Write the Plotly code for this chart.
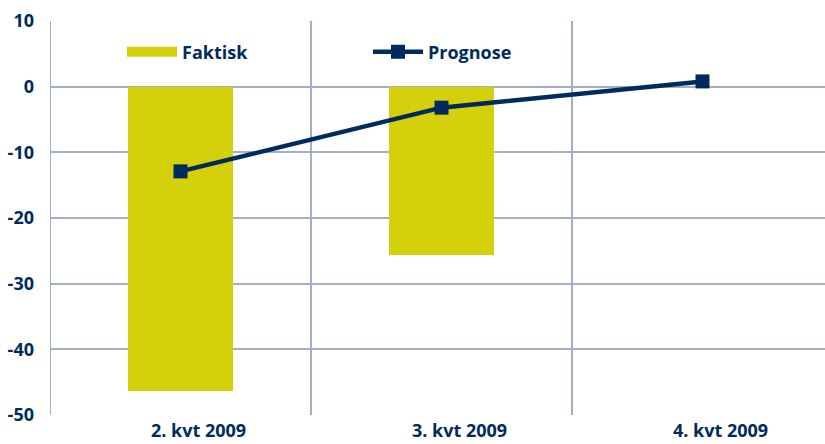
import plotly.graph_objects as go

categories = ["2. kvt 2009", "3. kvt 2009", "4. kvt 2009"]
faktisk = [-46.3, -25.7, None]
prognose = [-12.9, -3.2, 0.8]
y_ticks = [-50, -40, -30, -20, -10, 0, 10]

NAVY = "#002b5c"
YELLOW = "#d4d00c"
GRID = "#a3aec8"
FONT = dict(family="Open Sans", size=18, color=NAVY)

fig = go.Figure()
fig.add_trace(go.Bar(x=[0, 1, 2], y=faktisk, marker=dict(color=YELLOW, line=dict(width=0)),
                     width=0.40, showlegend=False, name="Faktisk"))
# legend proxy for bar (wide rectangle symbol)
fig.add_trace(go.Scatter(x=[None], y=[None], mode="lines", name="<b>Faktisk</b>",
                         line=dict(color=YELLOW, width=12), legend="legend"))
fig.add_trace(go.Scatter(x=[0, 1, 2], y=prognose, mode="lines+markers", name="<b>Prognose</b>",
                         line=dict(color=NAVY, width=4.5),
                         marker=dict(symbol="square", size=14, color=NAVY),
                         legend="legend2"))

W, H = 825, 444
L, R, T, B = 50, 0, 21, 29
plot_w = W - L - R
plot_h = H - T - B
cat_w = 261.0
xmax = -0.5 + plot_w / cat_w

fig.update_layout(
    width=W, height=H,
    margin=dict(l=L, r=R, t=T, b=B, autoexpand=False),
    paper_bgcolor="white", plot_bgcolor="white",
    font=FONT,
    bargap=0,
    legend=dict(x=(122 - L) / plot_w, y=(H - B - 52) / plot_h, xanchor="left", yanchor="middle",
                bgcolor="rgba(0,0,0,0)", font=FONT, orientation="h", itemwidth=50),
    legend2=dict(x=(368 - L) / plot_w, y=(H - B - 52) / plot_h, xanchor="left", yanchor="middle",
                 bgcolor="rgba(0,0,0,0)", font=FONT, orientation="h", itemwidth=50),
)
fig.update_xaxes(
    range=[-0.5, xmax],
    tickmode="array", tickvals=[0, 1, 2],
    ticktext=["<b>%s</b>" % c for c in categories],
    showgrid=False, zeroline=False, automargin=False,
    showline=False, ticks="", tickfont=FONT, ticklabelstandoff=3, ticklabelshift=18,
)
for xv in [-0.5, 0.5, 1.5]:
    fig.add_vline(x=xv, line=dict(color=GRID, width=2), layer="below")
fig.update_yaxes(
    range=[-50, 10], automargin=False,
    tickmode="array", tickvals=y_ticks,
    ticktext=["<b>%d</b>" % v for v in y_ticks],
    showgrid=True, gridcolor=GRID, gridwidth=2,
    zeroline=False, showline=False, ticks="", ticklabelstandoff=15,
    tickfont=FONT,
)

fig.write_html("out.html")
